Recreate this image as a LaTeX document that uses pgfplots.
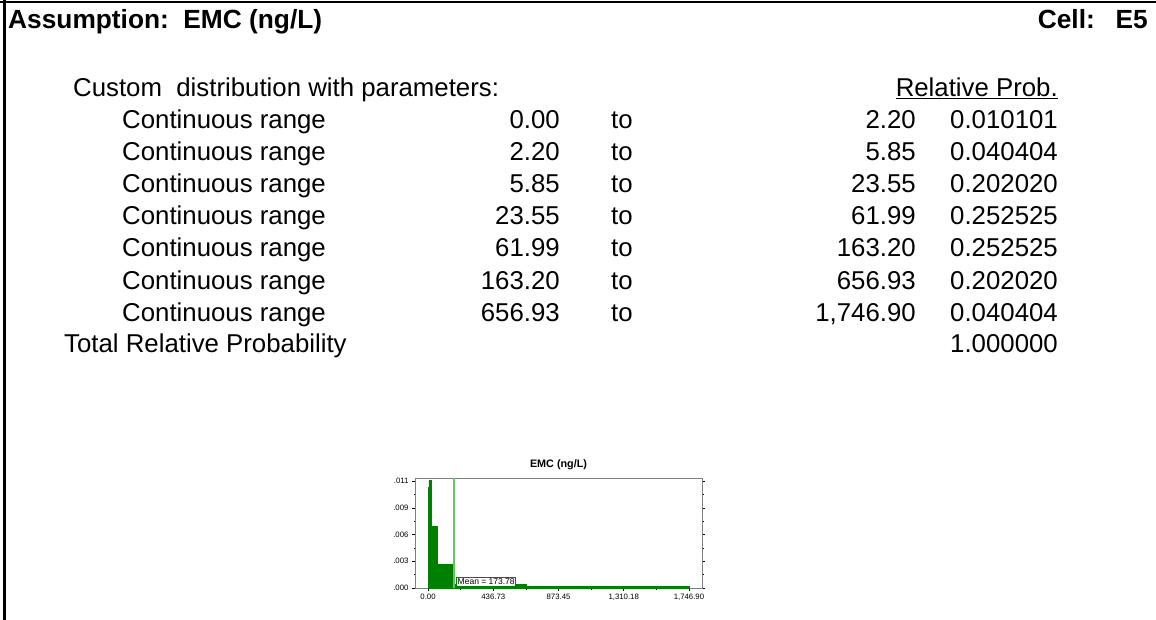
\documentclass[border=0pt]{standalone}
\usepackage{fontspec}
\setmainfont{Liberation Sans}
\usepackage{pgfplots}
\pgfplotsset{compat=1.18}
\definecolor{barg}{RGB}{0,128,0}
\definecolor{meang}{RGB}{110,190,110}
\begin{document}
\begin{tikzpicture}[x=1pt,y=-1pt]
\path[use as bounding box] (0,0) rectangle (1156,620);
% frame
\draw[line width=2.5pt] (0,2) -- (1156,2);
\draw[line width=2.5pt] (4.5,0) -- (4.5,620);
% header
\begin{scope}[every node/.style={inner sep=0pt}]
\node[anchor=base west,font=\fontsize{26.3}{30}\selectfont\bfseries] at (8,29) {Assumption:\hspace{14.5pt}EMC (ng/L)};
\node[anchor=base east,font=\fontsize{26.3}{30}\selectfont\bfseries] at (1148,29) {Cell:\hspace{20.8pt}E5};
\end{scope}
\begin{scope}[every node/.style={inner sep=0pt,font=\fontsize{25.8}{31}\selectfont}]
\node[anchor=base west] at (73,97) {Custom\ \ distribution with parameters:};
\node[anchor=base east] at (1058,97) {\underline{Relative Prob.}};
% rows
\node[anchor=base west] at (122,129) {Continuous range};
\node[anchor=base east] at (560,129) {0.00};
\node[anchor=base west] at (611,129) {to};
\node[anchor=base east] at (916,129) {2.20};
\node[anchor=base east] at (1058,129) {0.010101};
\node[anchor=base west] at (122,161) {Continuous range};
\node[anchor=base east] at (560,161) {2.20};
\node[anchor=base west] at (611,161) {to};
\node[anchor=base east] at (916,161) {5.85};
\node[anchor=base east] at (1058,161) {0.040404};
\node[anchor=base west] at (122,193) {Continuous range};
\node[anchor=base east] at (560,193) {5.85};
\node[anchor=base west] at (611,193) {to};
\node[anchor=base east] at (916,193) {23.55};
\node[anchor=base east] at (1058,193) {0.202020};
\node[anchor=base west] at (122,225) {Continuous range};
\node[anchor=base east] at (560,225) {23.55};
\node[anchor=base west] at (611,225) {to};
\node[anchor=base east] at (916,225) {61.99};
\node[anchor=base east] at (1058,225) {0.252525};
\node[anchor=base west] at (122,257) {Continuous range};
\node[anchor=base east] at (560,257) {61.99};
\node[anchor=base west] at (611,257) {to};
\node[anchor=base east] at (916,257) {163.20};
\node[anchor=base east] at (1058,257) {0.252525};
\node[anchor=base west] at (122,289) {Continuous range};
\node[anchor=base east] at (560,289) {163.20};
\node[anchor=base west] at (611,289) {to};
\node[anchor=base east] at (916,289) {656.93};
\node[anchor=base east] at (1058,289) {0.202020};
\node[anchor=base west] at (122,321) {Continuous range};
\node[anchor=base east] at (560,321) {656.93};
\node[anchor=base west] at (611,321) {to};
\node[anchor=base east] at (916,321) {1,746.90};
\node[anchor=base east] at (1058,321) {0.040404};
\node[anchor=base west] at (64,352) {Total Relative Probability};
\node[anchor=base east] at (1058,352) {1.000000};
\end{scope}
\begin{axis}[
  at={(415pt,-588pt)}, anchor=south west,
  width=287pt, height=110pt, scale only axis,
  xmin=-87.3, xmax=1834.2, ymin=0, ymax=0.0117,
  axis line style={draw=gray, line width=0.8pt},
  xtick={0,436.725,873.45,1310.175,1746.9},
  xticklabels={0.00,436.73,873.45,{1,310.18},{1,746.90}},
  ytick={0,0.00284,0.00568,0.00852,0.01136},
  yticklabels={.000,.003,.006,.009,.011},
  scaled y ticks=false,
  minor tick num=1,
  tick align=outside,
  xtick pos=bottom,
  yticklabel pos=left,
  major tick length=3pt, minor tick length=1.5pt,
  tick style={black, line width=0.6pt},
  ticklabel style={font=\fontsize{7.8}{8}\selectfont},
  /pgf/number format/assume math mode=true,
  title={\textbf{EMC (ng/L)}},
  title style={font=\fontsize{10.8}{12}\selectfont, inner sep=2pt},
  clip=false,
]
\addplot[const plot, fill=barg, draw=barg, line width=0.8pt] coordinates {
  (0,0.0046) (2.2,0.0107) (5.85,0.0114) (23.55,0.0065) (61.99,0.0025)
  (163.2,0.00037) (656.93,0.00014) (1746.9,0.00014)} \closedcycle;
\addplot[meang, line width=1.4pt] coordinates {(173.78,0) (173.78,0.0117)};
\node[draw=barg, fill=white, line width=0.8pt, inner xsep=1.2pt, inner ysep=1.6pt, anchor=south west,
  font=\fontsize{8.5}{9}\selectfont] at (axis cs:188,0.00012) {Mean = 173.78};
\end{axis}
\end{tikzpicture}
\end{document}
